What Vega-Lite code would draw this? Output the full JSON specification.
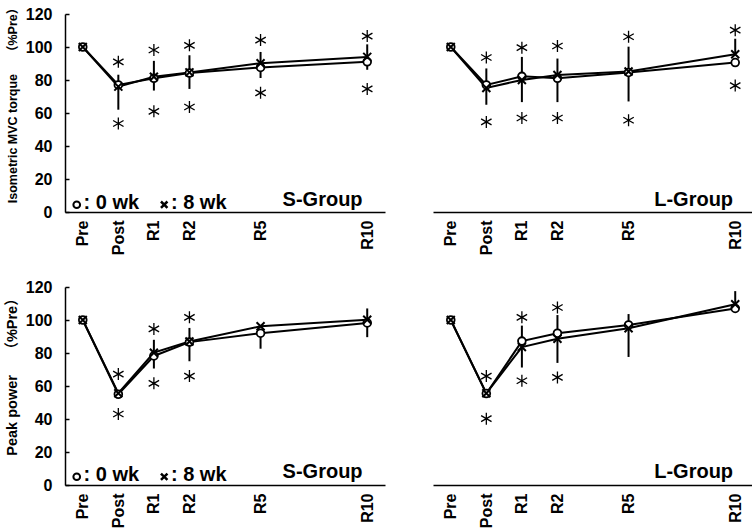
{
  "$schema": "https://vega.github.io/schema/vega-lite/v6.json",
  "background": "white",
  "padding": {"left": 4, "top": 1, "right": 0, "bottom": 0},
  "datasets": {
    "pts": [
      {"panel": "MVC-S", "time": "Pre", "t": 0, "wk": "0 wk", "mean": 100, "lo": 100, "hi": 100},
      {"panel": "MVC-S", "time": "Post", "t": 1, "wk": "0 wk", "mean": 77, "lo": 77, "hi": 83.2},
      {"panel": "MVC-S", "time": "R1", "t": 2, "wk": "0 wk", "mean": 81, "lo": 81, "hi": 91.6},
      {"panel": "MVC-S", "time": "R2", "t": 3, "wk": "0 wk", "mean": 84.2, "lo": 84.2, "hi": 95},
      {"panel": "MVC-S", "time": "R5", "t": 5, "wk": "0 wk", "mean": 87.6, "lo": 87.6, "hi": 97},
      {"panel": "MVC-S", "time": "R10", "t": 8, "wk": "0 wk", "mean": 91, "lo": 91, "hi": 101.6},
      {"panel": "MVC-S", "time": "Pre", "t": 0, "wk": "8 wk", "mean": 100, "lo": 100, "hi": 100},
      {"panel": "MVC-S", "time": "Post", "t": 1, "wk": "8 wk", "mean": 76, "lo": 62, "hi": 76},
      {"panel": "MVC-S", "time": "R1", "t": 2, "wk": "8 wk", "mean": 82, "lo": 73.6, "hi": 82},
      {"panel": "MVC-S", "time": "R2", "t": 3, "wk": "8 wk", "mean": 84.6, "lo": 74.6, "hi": 84.6},
      {"panel": "MVC-S", "time": "R5", "t": 5, "wk": "8 wk", "mean": 90.2, "lo": 81.2, "hi": 90.2},
      {"panel": "MVC-S", "time": "R10", "t": 8, "wk": "8 wk", "mean": 94, "lo": 86.2, "hi": 94},

      {"panel": "MVC-L", "time": "Pre", "t": 0, "wk": "0 wk", "mean": 100, "lo": 100, "hi": 100},
      {"panel": "MVC-L", "time": "Post", "t": 1, "wk": "0 wk", "mean": 77, "lo": 77, "hi": 87},
      {"panel": "MVC-L", "time": "R1", "t": 2, "wk": "0 wk", "mean": 82.2, "lo": 82.2, "hi": 94},
      {"panel": "MVC-L", "time": "R2", "t": 3, "wk": "0 wk", "mean": 81, "lo": 81, "hi": 93},
      {"panel": "MVC-L", "time": "R5", "t": 5, "wk": "0 wk", "mean": 84.6, "lo": 84.6, "hi": 100.2},
      {"panel": "MVC-L", "time": "R10", "t": 8, "wk": "0 wk", "mean": 90.6, "lo": 90.6, "hi": 90.6},
      {"panel": "MVC-L", "time": "Pre", "t": 0, "wk": "8 wk", "mean": 100, "lo": 100, "hi": 100},
      {"panel": "MVC-L", "time": "Post", "t": 1, "wk": "8 wk", "mean": 75.2, "lo": 65, "hi": 75.2},
      {"panel": "MVC-L", "time": "R1", "t": 2, "wk": "8 wk", "mean": 80, "lo": 66.6, "hi": 80},
      {"panel": "MVC-L", "time": "R2", "t": 3, "wk": "8 wk", "mean": 83, "lo": 66.6, "hi": 83},
      {"panel": "MVC-L", "time": "R5", "t": 5, "wk": "8 wk", "mean": 85.2, "lo": 67, "hi": 85.2},
      {"panel": "MVC-L", "time": "R10", "t": 8, "wk": "8 wk", "mean": 95.6, "lo": 95.6, "hi": 105},

      {"panel": "PP-S", "time": "Pre", "t": 0, "wk": "0 wk", "mean": 100, "lo": 100, "hi": 100},
      {"panel": "PP-S", "time": "Post", "t": 1, "wk": "0 wk", "mean": 55, "lo": 55, "hi": 55},
      {"panel": "PP-S", "time": "R1", "t": 2, "wk": "0 wk", "mean": 78.2, "lo": 78.2, "hi": 88},
      {"panel": "PP-S", "time": "R2", "t": 3, "wk": "0 wk", "mean": 86.6, "lo": 86.6, "hi": 95.2},
      {"panel": "PP-S", "time": "R5", "t": 5, "wk": "0 wk", "mean": 92, "lo": 82.6, "hi": 92},
      {"panel": "PP-S", "time": "R10", "t": 8, "wk": "0 wk", "mean": 98.2, "lo": 98.2, "hi": 107},
      {"panel": "PP-S", "time": "Pre", "t": 0, "wk": "8 wk", "mean": 100, "lo": 100, "hi": 100},
      {"panel": "PP-S", "time": "Post", "t": 1, "wk": "8 wk", "mean": 55.6, "lo": 55.6, "hi": 55.6},
      {"panel": "PP-S", "time": "R1", "t": 2, "wk": "8 wk", "mean": 80.2, "lo": 70.6, "hi": 80.2},
      {"panel": "PP-S", "time": "R2", "t": 3, "wk": "8 wk", "mean": 87, "lo": 75, "hi": 87},
      {"panel": "PP-S", "time": "R5", "t": 5, "wk": "8 wk", "mean": 96.2, "lo": 96.2, "hi": 96.2},
      {"panel": "PP-S", "time": "R10", "t": 8, "wk": "8 wk", "mean": 100.2, "lo": 89.6, "hi": 100.2},

      {"panel": "PP-L", "time": "Pre", "t": 0, "wk": "0 wk", "mean": 100, "lo": 100, "hi": 100},
      {"panel": "PP-L", "time": "Post", "t": 1, "wk": "0 wk", "mean": 55.4, "lo": 55.4, "hi": 55.4},
      {"panel": "PP-L", "time": "R1", "t": 2, "wk": "0 wk", "mean": 87.2, "lo": 87.2, "hi": 96.6},
      {"panel": "PP-L", "time": "R2", "t": 3, "wk": "0 wk", "mean": 92, "lo": 92, "hi": 103},
      {"panel": "PP-L", "time": "R5", "t": 5, "wk": "0 wk", "mean": 97, "lo": 97, "hi": 103.6},
      {"panel": "PP-L", "time": "R10", "t": 8, "wk": "0 wk", "mean": 107, "lo": 107, "hi": 107},
      {"panel": "PP-L", "time": "Pre", "t": 0, "wk": "8 wk", "mean": 100, "lo": 100, "hi": 100},
      {"panel": "PP-L", "time": "Post", "t": 1, "wk": "8 wk", "mean": 55.6, "lo": 55.6, "hi": 55.6},
      {"panel": "PP-L", "time": "R1", "t": 2, "wk": "8 wk", "mean": 83.6, "lo": 71.2, "hi": 83.6},
      {"panel": "PP-L", "time": "R2", "t": 3, "wk": "8 wk", "mean": 88.6, "lo": 74, "hi": 88.6},
      {"panel": "PP-L", "time": "R5", "t": 5, "wk": "8 wk", "mean": 95, "lo": 77.6, "hi": 95},
      {"panel": "PP-L", "time": "R10", "t": 8, "wk": "8 wk", "mean": 109.5, "lo": 109.5, "hi": 117.5}
    ],
    "ast": [
      {"panel": "MVC-S", "t": 1, "v": 91}, {"panel": "MVC-S", "t": 1, "v": 53.6},
      {"panel": "MVC-S", "t": 2, "v": 98.2}, {"panel": "MVC-S", "t": 2, "v": 61},
      {"panel": "MVC-S", "t": 3, "v": 101}, {"panel": "MVC-S", "t": 3, "v": 63.6},
      {"panel": "MVC-S", "t": 5, "v": 104.2}, {"panel": "MVC-S", "t": 5, "v": 72.2},
      {"panel": "MVC-S", "t": 8, "v": 106.6}, {"panel": "MVC-S", "t": 8, "v": 74.6},
      {"panel": "MVC-L", "t": 1, "v": 93.6}, {"panel": "MVC-L", "t": 1, "v": 54.6},
      {"panel": "MVC-L", "t": 2, "v": 99.6}, {"panel": "MVC-L", "t": 2, "v": 57},
      {"panel": "MVC-L", "t": 3, "v": 100.6}, {"panel": "MVC-L", "t": 3, "v": 57},
      {"panel": "MVC-L", "t": 5, "v": 106.2}, {"panel": "MVC-L", "t": 5, "v": 55.6},
      {"panel": "MVC-L", "t": 8, "v": 110.2}, {"panel": "MVC-L", "t": 8, "v": 76.6},
      {"panel": "PP-S", "t": 1, "v": 67.2}, {"panel": "PP-S", "t": 1, "v": 43},
      {"panel": "PP-S", "t": 2, "v": 94.6}, {"panel": "PP-S", "t": 2, "v": 61.6},
      {"panel": "PP-S", "t": 3, "v": 101.6}, {"panel": "PP-S", "t": 3, "v": 66},
      {"panel": "PP-L", "t": 1, "v": 66}, {"panel": "PP-L", "t": 1, "v": 40.2},
      {"panel": "PP-L", "t": 2, "v": 101.6}, {"panel": "PP-L", "t": 2, "v": 63.2},
      {"panel": "PP-L", "t": 3, "v": 107.6}, {"panel": "PP-L", "t": 3, "v": 65.2}
    ],
    "notes": [
      {"panel": "MVC-S", "group": "S-Group"},
      {"panel": "MVC-L", "group": "L-Group"},
      {"panel": "PP-S", "group": "S-Group"},
      {"panel": "PP-L", "group": "L-Group"}
    ],
    "legend": [
      {"panel": "MVC-S", "series": "0 wk", "label": ": 0 wk"},
      {"panel": "MVC-S", "series": "8 wk", "label": ": 8 wk"},
      {"panel": "PP-S", "series": "0 wk", "label": ": 0 wk"},
      {"panel": "PP-S", "series": "8 wk", "label": ": 8 wk"}
    ]
  },
  "spacing": 24,
  "vconcat": [
    {
      "bounds": "flush",
      "spacing": 48,
      "hconcat": [
        {
          "width": 320, "height": 198,
          "layer": [
            {"data": {"name": "pts"}, "transform": [{"filter": "datum.panel=='MVC-S'"}],
             "mark": {"type": "line", "color": "black", "strokeWidth": 2},
             "encoding": {
               "x": {"field": "t", "type": "quantitative", "scale": {"domain": [-0.5, 8.5], "nice": false, "zero": false},
                     "axis": {"title": null, "values": [0, 1, 2, 3, 5, 8], "labelExpr": "datum.value==0?'Pre':datum.value==1?'Post':datum.value==2?'R1':datum.value==3?'R2':datum.value==5?'R5':'R10'"}},
               "y": {"field": "mean", "type": "quantitative", "scale": {"domain": [0, 120], "nice": false},
                     "axis": {"title": "Isometric MVC torque　 （%Pre）", "titleY": 88, "titleFontSize": 12.5}},
               "detail": {"field": "wk"}}},
            {"data": {"name": "pts"}, "transform": [{"filter": "datum.panel=='MVC-S'"}],
             "mark": {"type": "rule", "color": "black", "strokeWidth": 2},
             "encoding": {"x": {"field": "t", "type": "quantitative"}, "y": {"field": "lo", "type": "quantitative"}, "y2": {"field": "hi"}}},
            {"data": {"name": "pts"}, "transform": [{"filter": "datum.panel=='MVC-S' && datum.wk=='0 wk'"}],
             "mark": {"type": "point", "shape": "circle", "filled": true, "fill": "white", "stroke": "black", "strokeWidth": 1.8, "size": 60, "opacity": 1},
             "encoding": {"x": {"field": "t", "type": "quantitative"}, "y": {"field": "mean", "type": "quantitative"}}},
            {"data": {"name": "pts"}, "transform": [{"filter": "datum.panel=='MVC-S' && datum.wk=='8 wk'"}],
             "mark": {"type": "point", "shape": "M-1,-1L1,1M-1,1L1,-1", "filled": false, "stroke": "black", "strokeWidth": 2, "size": 64, "opacity": 1},
             "encoding": {"x": {"field": "t", "type": "quantitative"}, "y": {"field": "mean", "type": "quantitative"}}},
            {"data": {"name": "ast"}, "transform": [{"filter": "datum.panel=='MVC-S'"}],
             "mark": {"type": "point", "shape": "M0,-1L0,1M-0.87,-0.5L0.87,0.5M-0.87,0.5L0.87,-0.5", "filled": false, "stroke": "black", "strokeWidth": 1.3, "size": 144, "opacity": 1},
             "encoding": {"x": {"field": "t", "type": "quantitative"}, "y": {"field": "v", "type": "quantitative"}}},
            {"data": {"name": "notes"}, "transform": [{"filter": "datum.panel=='MVC-S'"}],
             "mark": {"type": "text", "fontSize": 20, "fontWeight": "bold", "align": "right", "baseline": "alphabetic", "color": "black"},
             "encoding": {"x": {"datum": 7.87, "type": "quantitative"}, "y": {"datum": 3.6, "type": "quantitative"}, "text": {"field": "group"}}},
            {"data": {"name": "legend"}, "transform": [{"filter": "datum.panel=='MVC-S' && datum.series=='0 wk'"}],
             "mark": {"type": "point", "shape": "circle", "filled": false, "stroke": "black", "strokeWidth": 2, "size": 45, "opacity": 1},
             "encoding": {"x": {"datum": -0.17, "type": "quantitative"}, "y": {"datum": 4.4, "type": "quantitative"}}},
            {"data": {"name": "legend"}, "transform": [{"filter": "datum.panel=='MVC-S' && datum.series=='8 wk'"}],
             "mark": {"type": "point", "shape": "M-1,-1L1,1M-1,1L1,-1", "filled": false, "stroke": "black", "strokeWidth": 2.5, "size": 42, "opacity": 1},
             "encoding": {"x": {"datum": 2.29, "type": "quantitative"}, "y": {"datum": 4.4, "type": "quantitative"}}},
            {"data": {"name": "legend"}, "transform": [{"filter": "datum.panel=='MVC-S' && datum.series=='0 wk'"}],
             "mark": {"type": "text", "fontSize": 20, "fontWeight": "bold", "align": "left", "baseline": "alphabetic", "color": "black"},
             "encoding": {"x": {"datum": 0.02, "type": "quantitative"}, "y": {"datum": 1.8, "type": "quantitative"}, "text": {"field": "label"}}},
            {"data": {"name": "legend"}, "transform": [{"filter": "datum.panel=='MVC-S' && datum.series=='8 wk'"}],
             "mark": {"type": "text", "fontSize": 20, "fontWeight": "bold", "align": "left", "baseline": "alphabetic", "color": "black"},
             "encoding": {"x": {"datum": 2.48, "type": "quantitative"}, "y": {"datum": 1.8, "type": "quantitative"}, "text": {"field": "label"}}}
          ]
        },
        {
          "width": 320, "height": 198,
          "layer": [
            {"data": {"name": "pts"}, "transform": [{"filter": "datum.panel=='MVC-L'"}],
             "mark": {"type": "line", "color": "black", "strokeWidth": 2},
             "encoding": {
               "x": {"field": "t", "type": "quantitative", "scale": {"domain": [-0.5, 8.5], "nice": false, "zero": false},
                     "axis": {"title": null, "values": [0, 1, 2, 3, 5, 8], "labelExpr": "datum.value==0?'Pre':datum.value==1?'Post':datum.value==2?'R1':datum.value==3?'R2':datum.value==5?'R5':'R10'"}},
               "y": {"field": "mean", "type": "quantitative", "scale": {"domain": [0, 120], "nice": false}, "axis": null},
               "detail": {"field": "wk"}}},
            {"data": {"name": "pts"}, "transform": [{"filter": "datum.panel=='MVC-L'"}],
             "mark": {"type": "rule", "color": "black", "strokeWidth": 2},
             "encoding": {"x": {"field": "t", "type": "quantitative"}, "y": {"field": "lo", "type": "quantitative", "axis": null}, "y2": {"field": "hi"}}},
            {"data": {"name": "pts"}, "transform": [{"filter": "datum.panel=='MVC-L' && datum.wk=='0 wk'"}],
             "mark": {"type": "point", "shape": "circle", "filled": true, "fill": "white", "stroke": "black", "strokeWidth": 1.8, "size": 60, "opacity": 1},
             "encoding": {"x": {"field": "t", "type": "quantitative"}, "y": {"field": "mean", "type": "quantitative", "axis": null}}},
            {"data": {"name": "pts"}, "transform": [{"filter": "datum.panel=='MVC-L' && datum.wk=='8 wk'"}],
             "mark": {"type": "point", "shape": "M-1,-1L1,1M-1,1L1,-1", "filled": false, "stroke": "black", "strokeWidth": 2, "size": 64, "opacity": 1},
             "encoding": {"x": {"field": "t", "type": "quantitative"}, "y": {"field": "mean", "type": "quantitative", "axis": null}}},
            {"data": {"name": "ast"}, "transform": [{"filter": "datum.panel=='MVC-L'"}],
             "mark": {"type": "point", "shape": "M0,-1L0,1M-0.87,-0.5L0.87,0.5M-0.87,0.5L0.87,-0.5", "filled": false, "stroke": "black", "strokeWidth": 1.3, "size": 144, "opacity": 1},
             "encoding": {"x": {"field": "t", "type": "quantitative"}, "y": {"field": "v", "type": "quantitative", "axis": null}}},
            {"data": {"name": "notes"}, "transform": [{"filter": "datum.panel=='MVC-L'"}],
             "mark": {"type": "text", "fontSize": 20, "fontWeight": "bold", "align": "right", "baseline": "alphabetic", "color": "black"},
             "encoding": {"x": {"datum": 7.94, "type": "quantitative"}, "y": {"datum": 3.6, "type": "quantitative", "axis": null}, "text": {"field": "group"}}}
          ]
        }
      ]
    },
    {
      "bounds": "flush",
      "spacing": 48,
      "hconcat": [
        {
          "width": 320, "height": 198,
          "layer": [
            {"data": {"name": "pts"}, "transform": [{"filter": "datum.panel=='PP-S'"}],
             "mark": {"type": "line", "color": "black", "strokeWidth": 2},
             "encoding": {
               "x": {"field": "t", "type": "quantitative", "scale": {"domain": [-0.5, 8.5], "nice": false, "zero": false},
                     "axis": {"title": null, "values": [0, 1, 2, 3, 5, 8], "labelExpr": "datum.value==0?'Pre':datum.value==1?'Post':datum.value==2?'R1':datum.value==3?'R2':datum.value==5?'R5':'R10'"}},
               "y": {"field": "mean", "type": "quantitative", "scale": {"domain": [0, 120], "nice": false},
                     "axis": {"title": "Peak power　  （%Pre）", "titleY": 86, "titleFontSize": 14.5}},
               "detail": {"field": "wk"}}},
            {"data": {"name": "pts"}, "transform": [{"filter": "datum.panel=='PP-S'"}],
             "mark": {"type": "rule", "color": "black", "strokeWidth": 2},
             "encoding": {"x": {"field": "t", "type": "quantitative"}, "y": {"field": "lo", "type": "quantitative"}, "y2": {"field": "hi"}}},
            {"data": {"name": "pts"}, "transform": [{"filter": "datum.panel=='PP-S' && datum.wk=='0 wk'"}],
             "mark": {"type": "point", "shape": "circle", "filled": true, "fill": "white", "stroke": "black", "strokeWidth": 1.8, "size": 60, "opacity": 1},
             "encoding": {"x": {"field": "t", "type": "quantitative"}, "y": {"field": "mean", "type": "quantitative"}}},
            {"data": {"name": "pts"}, "transform": [{"filter": "datum.panel=='PP-S' && datum.wk=='8 wk'"}],
             "mark": {"type": "point", "shape": "M-1,-1L1,1M-1,1L1,-1", "filled": false, "stroke": "black", "strokeWidth": 2, "size": 64, "opacity": 1},
             "encoding": {"x": {"field": "t", "type": "quantitative"}, "y": {"field": "mean", "type": "quantitative"}}},
            {"data": {"name": "ast"}, "transform": [{"filter": "datum.panel=='PP-S'"}],
             "mark": {"type": "point", "shape": "M0,-1L0,1M-0.87,-0.5L0.87,0.5M-0.87,0.5L0.87,-0.5", "filled": false, "stroke": "black", "strokeWidth": 1.3, "size": 144, "opacity": 1},
             "encoding": {"x": {"field": "t", "type": "quantitative"}, "y": {"field": "v", "type": "quantitative"}}},
            {"data": {"name": "notes"}, "transform": [{"filter": "datum.panel=='PP-S'"}],
             "mark": {"type": "text", "fontSize": 20, "fontWeight": "bold", "align": "right", "baseline": "alphabetic", "color": "black"},
             "encoding": {"x": {"datum": 7.87, "type": "quantitative"}, "y": {"datum": 4.2, "type": "quantitative"}, "text": {"field": "group"}}},
            {"data": {"name": "legend"}, "transform": [{"filter": "datum.panel=='PP-S' && datum.series=='0 wk'"}],
             "mark": {"type": "point", "shape": "circle", "filled": false, "stroke": "black", "strokeWidth": 2, "size": 45, "opacity": 1},
             "encoding": {"x": {"datum": -0.17, "type": "quantitative"}, "y": {"datum": 5, "type": "quantitative"}}},
            {"data": {"name": "legend"}, "transform": [{"filter": "datum.panel=='PP-S' && datum.series=='8 wk'"}],
             "mark": {"type": "point", "shape": "M-1,-1L1,1M-1,1L1,-1", "filled": false, "stroke": "black", "strokeWidth": 2.5, "size": 42, "opacity": 1},
             "encoding": {"x": {"datum": 2.29, "type": "quantitative"}, "y": {"datum": 5, "type": "quantitative"}}},
            {"data": {"name": "legend"}, "transform": [{"filter": "datum.panel=='PP-S' && datum.series=='0 wk'"}],
             "mark": {"type": "text", "fontSize": 20, "fontWeight": "bold", "align": "left", "baseline": "alphabetic", "color": "black"},
             "encoding": {"x": {"datum": 0.02, "type": "quantitative"}, "y": {"datum": 2.4, "type": "quantitative"}, "text": {"field": "label"}}},
            {"data": {"name": "legend"}, "transform": [{"filter": "datum.panel=='PP-S' && datum.series=='8 wk'"}],
             "mark": {"type": "text", "fontSize": 20, "fontWeight": "bold", "align": "left", "baseline": "alphabetic", "color": "black"},
             "encoding": {"x": {"datum": 2.48, "type": "quantitative"}, "y": {"datum": 2.4, "type": "quantitative"}, "text": {"field": "label"}}}
          ]
        },
        {
          "width": 320, "height": 198,
          "layer": [
            {"data": {"name": "pts"}, "transform": [{"filter": "datum.panel=='PP-L'"}],
             "mark": {"type": "line", "color": "black", "strokeWidth": 2},
             "encoding": {
               "x": {"field": "t", "type": "quantitative", "scale": {"domain": [-0.5, 8.5], "nice": false, "zero": false},
                     "axis": {"title": null, "values": [0, 1, 2, 3, 5, 8], "labelExpr": "datum.value==0?'Pre':datum.value==1?'Post':datum.value==2?'R1':datum.value==3?'R2':datum.value==5?'R5':'R10'"}},
               "y": {"field": "mean", "type": "quantitative", "scale": {"domain": [0, 120], "nice": false}, "axis": null},
               "detail": {"field": "wk"}}},
            {"data": {"name": "pts"}, "transform": [{"filter": "datum.panel=='PP-L'"}],
             "mark": {"type": "rule", "color": "black", "strokeWidth": 2},
             "encoding": {"x": {"field": "t", "type": "quantitative"}, "y": {"field": "lo", "type": "quantitative", "axis": null}, "y2": {"field": "hi"}}},
            {"data": {"name": "pts"}, "transform": [{"filter": "datum.panel=='PP-L' && datum.wk=='0 wk'"}],
             "mark": {"type": "point", "shape": "circle", "filled": true, "fill": "white", "stroke": "black", "strokeWidth": 1.8, "size": 60, "opacity": 1},
             "encoding": {"x": {"field": "t", "type": "quantitative"}, "y": {"field": "mean", "type": "quantitative", "axis": null}}},
            {"data": {"name": "pts"}, "transform": [{"filter": "datum.panel=='PP-L' && datum.wk=='8 wk'"}],
             "mark": {"type": "point", "shape": "M-1,-1L1,1M-1,1L1,-1", "filled": false, "stroke": "black", "strokeWidth": 2, "size": 64, "opacity": 1},
             "encoding": {"x": {"field": "t", "type": "quantitative"}, "y": {"field": "mean", "type": "quantitative", "axis": null}}},
            {"data": {"name": "ast"}, "transform": [{"filter": "datum.panel=='PP-L'"}],
             "mark": {"type": "point", "shape": "M0,-1L0,1M-0.87,-0.5L0.87,0.5M-0.87,0.5L0.87,-0.5", "filled": false, "stroke": "black", "strokeWidth": 1.3, "size": 144, "opacity": 1},
             "encoding": {"x": {"field": "t", "type": "quantitative"}, "y": {"field": "v", "type": "quantitative", "axis": null}}},
            {"data": {"name": "notes"}, "transform": [{"filter": "datum.panel=='PP-L'"}],
             "mark": {"type": "text", "fontSize": 20, "fontWeight": "bold", "align": "right", "baseline": "alphabetic", "color": "black"},
             "encoding": {"x": {"datum": 7.94, "type": "quantitative"}, "y": {"datum": 4.2, "type": "quantitative", "axis": null}, "text": {"field": "group"}}}
          ]
        }
      ]
    }
  ],
  "config": {
    "view": {"stroke": null},
    "font": "Liberation Sans",
    "axis": {"grid": false, "domainColor": "black", "domainWidth": 1.5, "labelColor": "black", "labelFont": "Liberation Sans", "labelFontWeight": "bold", "titleFont": "Liberation Sans, Noto Sans CJK JP", "titleFontWeight": "bold", "titleColor": "black", "titleLimit": 400},
    "axisX": {"labelAngle": -90, "labelFontSize": 16, "ticks": false, "labelPadding": 8},
    "axisY": {"labelFontSize": 16, "tickCount": 6, "tickSize": -4, "tickColor": "black", "tickWidth": 1.5, "labelPadding": 17, "titleFontSize": 13, "titlePadding": 6}
  }
}
